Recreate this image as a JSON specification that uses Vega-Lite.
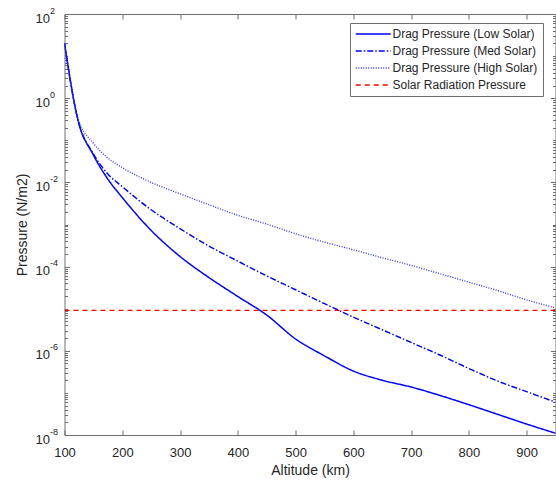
{
  "$schema": "https://vega.github.io/schema/vega-lite/v6.json",
  "width": 491,
  "height": 421,
  "autosize": {"type": "none"},
  "padding": {"left": 64.5, "top": 14, "right": 0.5, "bottom": 47},
  "background": "white",
  "datasets": {
    "drag": [
      {"series": "Drag Pressure (Low Solar)", "alt": 100, "p": 20},
      {"series": "Drag Pressure (Low Solar)", "alt": 123, "p": 0.316},
      {"series": "Drag Pressure (Low Solar)", "alt": 150, "p": 0.0447},
      {"series": "Drag Pressure (Low Solar)", "alt": 175, "p": 0.012},
      {"series": "Drag Pressure (Low Solar)", "alt": 200, "p": 0.00437},
      {"series": "Drag Pressure (Low Solar)", "alt": 250, "p": 7.24e-4},
      {"series": "Drag Pressure (Low Solar)", "alt": 300, "p": 1.74e-4},
      {"series": "Drag Pressure (Low Solar)", "alt": 350, "p": 5.5e-5},
      {"series": "Drag Pressure (Low Solar)", "alt": 400, "p": 1.95e-5},
      {"series": "Drag Pressure (Low Solar)", "alt": 450, "p": 7.08e-6},
      {"series": "Drag Pressure (Low Solar)", "alt": 500, "p": 1.91e-6},
      {"series": "Drag Pressure (Low Solar)", "alt": 550, "p": 7.59e-7},
      {"series": "Drag Pressure (Low Solar)", "alt": 600, "p": 3.31e-7},
      {"series": "Drag Pressure (Low Solar)", "alt": 650, "p": 2.0e-7},
      {"series": "Drag Pressure (Low Solar)", "alt": 700, "p": 1.38e-7},
      {"series": "Drag Pressure (Low Solar)", "alt": 750, "p": 8.7e-8},
      {"series": "Drag Pressure (Low Solar)", "alt": 800, "p": 5.25e-8},
      {"series": "Drag Pressure (Low Solar)", "alt": 850, "p": 3.09e-8},
      {"series": "Drag Pressure (Low Solar)", "alt": 900, "p": 1.82e-8},
      {"series": "Drag Pressure (Low Solar)", "alt": 950, "p": 1.1e-8},
      {"series": "Drag Pressure (Med Solar)", "alt": 100, "p": 20},
      {"series": "Drag Pressure (Med Solar)", "alt": 123, "p": 0.316},
      {"series": "Drag Pressure (Med Solar)", "alt": 150, "p": 0.0479},
      {"series": "Drag Pressure (Med Solar)", "alt": 175, "p": 0.0158},
      {"series": "Drag Pressure (Med Solar)", "alt": 200, "p": 7.94e-3},
      {"series": "Drag Pressure (Med Solar)", "alt": 250, "p": 2.24e-3},
      {"series": "Drag Pressure (Med Solar)", "alt": 300, "p": 7.94e-4},
      {"series": "Drag Pressure (Med Solar)", "alt": 350, "p": 3.09e-4},
      {"series": "Drag Pressure (Med Solar)", "alt": 400, "p": 1.35e-4},
      {"series": "Drag Pressure (Med Solar)", "alt": 450, "p": 6.03e-5},
      {"series": "Drag Pressure (Med Solar)", "alt": 500, "p": 2.82e-5},
      {"series": "Drag Pressure (Med Solar)", "alt": 550, "p": 1.32e-5},
      {"series": "Drag Pressure (Med Solar)", "alt": 600, "p": 6.31e-6},
      {"series": "Drag Pressure (Med Solar)", "alt": 650, "p": 3.16e-6},
      {"series": "Drag Pressure (Med Solar)", "alt": 700, "p": 1.58e-6},
      {"series": "Drag Pressure (Med Solar)", "alt": 750, "p": 7.94e-7},
      {"series": "Drag Pressure (Med Solar)", "alt": 800, "p": 3.8e-7},
      {"series": "Drag Pressure (Med Solar)", "alt": 850, "p": 1.91e-7},
      {"series": "Drag Pressure (Med Solar)", "alt": 900, "p": 1.07e-7},
      {"series": "Drag Pressure (Med Solar)", "alt": 950, "p": 6.03e-8},
      {"series": "Drag Pressure (High Solar)", "alt": 100, "p": 20},
      {"series": "Drag Pressure (High Solar)", "alt": 123, "p": 0.339},
      {"series": "Drag Pressure (High Solar)", "alt": 150, "p": 0.0851},
      {"series": "Drag Pressure (High Solar)", "alt": 175, "p": 0.038},
      {"series": "Drag Pressure (High Solar)", "alt": 200, "p": 0.0224},
      {"series": "Drag Pressure (High Solar)", "alt": 250, "p": 0.01},
      {"series": "Drag Pressure (High Solar)", "alt": 300, "p": 5.37e-3},
      {"series": "Drag Pressure (High Solar)", "alt": 350, "p": 2.95e-3},
      {"series": "Drag Pressure (High Solar)", "alt": 400, "p": 1.66e-3},
      {"series": "Drag Pressure (High Solar)", "alt": 450, "p": 1.02e-3},
      {"series": "Drag Pressure (High Solar)", "alt": 500, "p": 6.03e-4},
      {"series": "Drag Pressure (High Solar)", "alt": 550, "p": 3.8e-4},
      {"series": "Drag Pressure (High Solar)", "alt": 600, "p": 2.51e-4},
      {"series": "Drag Pressure (High Solar)", "alt": 650, "p": 1.62e-4},
      {"series": "Drag Pressure (High Solar)", "alt": 700, "p": 1.07e-4},
      {"series": "Drag Pressure (High Solar)", "alt": 750, "p": 6.76e-5},
      {"series": "Drag Pressure (High Solar)", "alt": 800, "p": 4.27e-5},
      {"series": "Drag Pressure (High Solar)", "alt": 850, "p": 2.69e-5},
      {"series": "Drag Pressure (High Solar)", "alt": 900, "p": 1.62e-5},
      {"series": "Drag Pressure (High Solar)", "alt": 950, "p": 1.05e-5}
    ],
    "srp": [
      {"series": "Solar Radiation Pressure", "alt": 100, "p": 9.1e-6},
      {"series": "Solar Radiation Pressure", "alt": 950, "p": 9.1e-6}
    ]
  },
  "resolve": {"axis": {"x": "independent", "y": "independent"}},
  "layer": [
    {
      "data": {"name": "drag"},
      "mark": {"type": "line", "clip": true, "interpolate": "monotone"},
      "encoding": {
        "x": {"field": "alt", "type": "quantitative", "scale": {"domain": [100, 950], "nice": false, "zero": false},
          "axis": {"orient": "bottom", "values": [100, 200, 300, 400, 500, 600, 700, 800, 900], "tickSize": -5, "labelPadding": 16, "labelFlush": false, "labelOverlap": false, "title": "Altitude (km)", "titlePadding": 4, "grid": false, "domain": false}},
        "y": {"field": "p", "type": "quantitative", "scale": {"type": "log", "domain": [1e-8, 100], "nice": false},
          "axis": {"orient": "left", "values": [1e-8, 1e-6, 1e-4, 1e-2, 1, 100], "labelExpr": "'10'", "tickSize": -5, "labelPadding": 20, "labelOffset": 4, "labelFlush": false, "labelOverlap": false, "title": "Pressure (N/m2)", "titlePadding": 6, "grid": false, "domain": false}},
        "color": {"field": "series", "type": "nominal", "scale": {"domain": ["Drag Pressure (Low Solar)", "Drag Pressure (Med Solar)", "Drag Pressure (High Solar)", "Solar Radiation Pressure"], "range": ["#0000ff", "#0000ff", "#3333ff", "#ff0000"]}, "legend": {"title": null}},
        "strokeDash": {"field": "series", "type": "nominal", "scale": {"domain": ["Drag Pressure (Low Solar)", "Drag Pressure (Med Solar)", "Drag Pressure (High Solar)", "Solar Radiation Pressure"], "range": [[1, 0], [6, 2, 1.5, 2], [1, 1.5], [5, 4]]}, "legend": {"title": null}},
        "strokeWidth": {"field": "series", "type": "nominal", "scale": {"domain": ["Drag Pressure (Low Solar)", "Drag Pressure (Med Solar)", "Drag Pressure (High Solar)", "Solar Radiation Pressure"], "range": [1.5, 1.3, 1, 1.5]}, "legend": null}
      }
    },
    {
      "data": {"name": "srp"},
      "mark": {"type": "line", "clip": true},
      "encoding": {
        "x": {"field": "alt", "type": "quantitative",
          "axis": {"orient": "top", "values": [100, 200, 300, 400, 500, 600, 700, 800, 900], "tickSize": -5, "labels": false, "title": null, "grid": false, "domain": false}},
        "y": {"field": "p", "type": "quantitative",
          "axis": {"orient": "left", "values": [1e-8, 1e-6, 1e-4, 1e-2, 1, 100], "labelExpr": "datum.value >= 50 ? '2' : datum.value >= 0.5 ? '0' : datum.value >= 0.005 ? '-2' : datum.value >= 0.00005 ? '-4' : datum.value >= 0.0000005 ? '-6' : '-8'", "ticks": false, "labelAlign": "left", "labelPadding": 15, "labelOffset": -4, "labelFontSize": 9, "labelFlush": false, "labelOverlap": false, "title": null, "grid": false, "domain": false}},
        "color": {"field": "series", "type": "nominal"},
        "strokeDash": {"field": "series", "type": "nominal"},
        "strokeWidth": {"field": "series", "type": "nominal", "legend": null}
      }
    },
    {
      "data": {"name": "srp"},
      "mark": {"type": "line", "opacity": 0},
      "encoding": {
        "x": {"field": "alt", "type": "quantitative", "axis": null},
        "y": {"field": "p", "type": "quantitative",
          "axis": {"orient": "left", "values": [2e-8,3e-8,4e-8,5e-8,6e-8,7e-8,8e-8,9e-8,1e-7,2e-7,3e-7,4e-7,5e-7,6e-7,7e-7,8e-7,9e-7,2e-6,3e-6,4e-6,5e-6,6e-6,7e-6,8e-6,9e-6,1e-5,2e-5,3e-5,4e-5,5e-5,6e-5,7e-5,8e-5,9e-5,2e-4,3e-4,4e-4,5e-4,6e-4,7e-4,8e-4,9e-4,1e-3,2e-3,3e-3,4e-3,5e-3,6e-3,7e-3,8e-3,9e-3,0.02,0.03,0.04,0.05,0.06,0.07,0.08,0.09,0.1,0.2,0.3,0.4,0.5,0.6,0.7,0.8,0.9,2,3,4,5,6,7,8,9,10,20,30,40,50,60,70,80,90], "labels": false, "tickSize": -3, "title": null, "grid": false, "domain": false}}
      }
    },
    {
      "data": {"name": "srp"},
      "mark": {"type": "line", "opacity": 0},
      "encoding": {
        "x": {"field": "alt", "type": "quantitative", "axis": null},
        "y": {"field": "p", "type": "quantitative",
          "axis": {"orient": "right", "values": [1e-8, 1e-6, 1e-4, 1e-2, 1, 100], "labels": false, "tickSize": -5, "title": null, "grid": false, "domain": false}}
      }
    },
    {
      "data": {"name": "srp"},
      "mark": {"type": "line", "opacity": 0},
      "encoding": {
        "x": {"field": "alt", "type": "quantitative", "axis": null},
        "y": {"field": "p", "type": "quantitative",
          "axis": {"orient": "right", "values": [2e-8,3e-8,4e-8,5e-8,6e-8,7e-8,8e-8,9e-8,1e-7,2e-7,3e-7,4e-7,5e-7,6e-7,7e-7,8e-7,9e-7,2e-6,3e-6,4e-6,5e-6,6e-6,7e-6,8e-6,9e-6,1e-5,2e-5,3e-5,4e-5,5e-5,6e-5,7e-5,8e-5,9e-5,2e-4,3e-4,4e-4,5e-4,6e-4,7e-4,8e-4,9e-4,1e-3,2e-3,3e-3,4e-3,5e-3,6e-3,7e-3,8e-3,9e-3,0.02,0.03,0.04,0.05,0.06,0.07,0.08,0.09,0.1,0.2,0.3,0.4,0.5,0.6,0.7,0.8,0.9,2,3,4,5,6,7,8,9,10,20,30,40,50,60,70,80,90], "labels": false, "tickSize": -3, "title": null, "grid": false, "domain": false}}
      }
    }
  ],
  "config": {
    "view": {"stroke": "#6e6e6e", "strokeWidth": 1},
    "font": "Liberation Sans",
    "axis": {"labelFont": "Liberation Sans", "labelFontSize": 13, "labelColor": "#262626", "tickColor": "#6e6e6e", "tickWidth": 1, "titleFont": "Liberation Sans", "titleFontSize": 14, "titleFontWeight": "normal", "titleColor": "#262626"},
    "legend": {"orient": "none", "legendX": 285.5, "legendY": 9, "symbolType": "M-1.5,0H8.5", "symbolSize": 49, "symbolOffset": 0, "symbolStrokeWidth": 1.5, "labelFont": "Liberation Sans", "labelFontSize": 12, "labelColor": "#262626", "labelOffset": 25.5, "strokeColor": "#6e6e6e", "fillColor": "white", "padding": 5, "rowPadding": 5, "labelLimit": 300}
  }
}
